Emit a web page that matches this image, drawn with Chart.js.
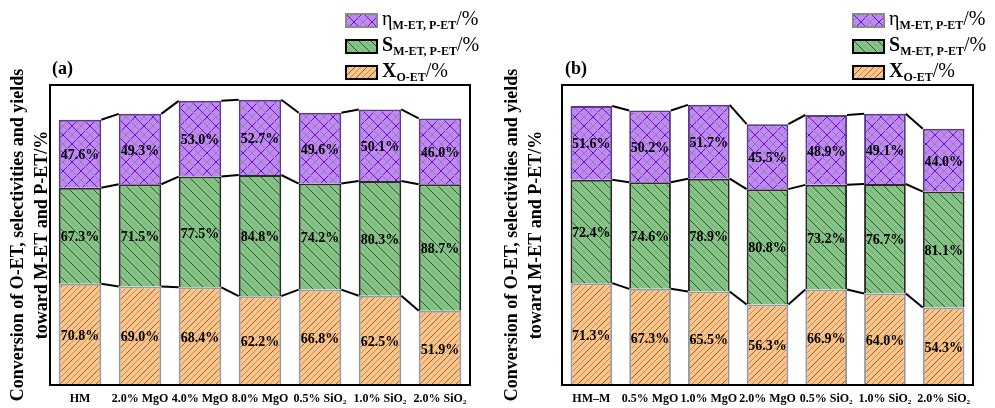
<!DOCTYPE html>
<html>
<head>
<meta charset="utf-8">
<script src="https://cdn.jsdelivr.net/npm/chart.js@4.4.1/dist/chart.umd.min.js"></script>
<style>
  body { margin: 0; width: 995px; height: 408px; position: relative; background: #fff; overflow: hidden;
         font-family: 'Liberation Serif', 'Times New Roman', serif; color: #000; }
  canvas { position: absolute; top: 0; }
  .lab { position: absolute; font-weight: bold; font-size: 18px; }
  .leg { position: absolute; }
  .row { position: absolute; left: 0; height: 20px; white-space: nowrap; }
  .row canvas { position: absolute; left: 0; top: 3px; }
  .row span { position: absolute; left: 37px; top: -3px; font-size: 20px; }
  .row sub { font-size: 12px; font-weight: bold; vertical-align: -4px; }
</style>
</head>
<body>
<canvas id="chartA" width="482" height="408" style="left:0"></canvas>
<canvas id="chartB" width="496" height="408" style="left:494px"></canvas>
<div class="lab" style="left:52px;top:58px">(a)</div>
<div class="lab" style="left:565px;top:58px">(b)</div>
<div class="leg" id="legA" style="left:345px;top:10px"></div>
<div class="leg" id="legB" style="left:852px;top:10px"></div>
<script>
const catsA = ['HM', '2.0% MgO', '4.0% MgO', '8.0% MgO', '0.5% SiO₂', '1.0% SiO₂', '2.0% SiO₂'];
const convA = [70.8, 69.0, 68.4, 62.2, 66.8, 62.5, 51.9];
const selA = [67.3, 71.5, 77.5, 84.8, 74.2, 80.3, 88.7];
const yieldA = [47.6, 49.3, 53.0, 52.7, 49.6, 50.1, 46.0];

const catsB = ['HM–M', '0.5% MgO', '1.0% MgO', '2.0% MgO', '0.5% SiO₂', '1.0% SiO₂', '2.0% SiO₂'];
const convB = [71.3, 67.3, 65.5, 56.3, 66.9, 64.0, 54.3];
const selB = [72.4, 74.6, 78.9, 80.8, 73.2, 76.7, 81.1];
const yieldB = [51.6, 50.2, 51.7, 45.5, 48.9, 49.1, 44.0];

const yTitle = ['Conversion of O-ET, selectivities and yields', 'toward M-ET and P-ET/%'];
const FONT = "'Liberation Serif', 'Times New Roman', serif";

// diagonal hatch tile; dir '/' or '\'
function hatch(bg, lines, size) {
  const c = document.createElement('canvas');
  c.width = c.height = size;
  const g = c.getContext('2d');
  g.fillStyle = bg;
  g.fillRect(0, 0, size, size);
  g.lineWidth = 1;
  lines.forEach((l) => {
    g.strokeStyle = l.color;
    for (let k = -1; k <= 2; k++) {
      const o = l.offset + k * size;
      g.beginPath();
      if (l.dir === '/') {
        g.moveTo(o + size, -size);
        g.lineTo(o - 2 * size, 2 * size);
      } else {
        g.moveTo(o - size, -size);
        g.lineTo(o + 2 * size, 2 * size);
      }
      g.stroke();
    }
  });
  return g.createPattern(c, 'repeat');
}

const orangeFill = hatch('#ffc383', [
  { dir: '/', color: '#9a5a2a', offset: 0 },
  { dir: '/', color: '#9a9a9a', offset: 6 },
], 12);
const greenFill = hatch('#84c484', [
  { dir: '\\', color: '#1f5a1f', offset: 0 },
  { dir: '\\', color: '#8f9f8f', offset: 6 },
], 12);
const purpleFill = hatch('#c386ff', [
  { dir: '/', color: '#5a1f9a', offset: 0 },
  { dir: '/', color: '#8a8a8a', offset: 9 },
  { dir: '\\', color: '#5a1f9a', offset: 0 },
  { dir: '\\', color: '#8a8a8a', offset: 9 },
], 18);

const boxPlugin = {
  id: 'box',
  afterDraw(chart) {
    const { ctx, chartArea: a } = chart;
    ctx.save();
    ctx.strokeStyle = '#000';
    ctx.lineWidth = 2;
    ctx.strokeRect(a.left, a.top, a.right - a.left, a.bottom - a.top);
    ctx.restore();
  },
};

const linkPlugin = {
  id: 'links',
  afterDatasetsDraw(chart) {
    const ctx = chart.ctx;
    ctx.save();
    ctx.strokeStyle = '#000';
    ctx.lineWidth = 2;
    chart.data.datasets.forEach((ds, di) => {
      const bars = chart.getDatasetMeta(di).data;
      for (let i = 0; i < bars.length - 1; i++) {
        const a = bars[i], b = bars[i + 1];
        ctx.beginPath();
        ctx.moveTo(a.x + a.width / 2, a.y);
        ctx.lineTo(b.x - b.width / 2, b.y);
        ctx.stroke();
      }
    });
    ctx.restore();
  },
};

const valuePlugin = {
  id: 'values',
  afterDatasetsDraw(chart) {
    const ctx = chart.ctx;
    ctx.save();
    ctx.font = 'bold 14px ' + FONT;
    ctx.fillStyle = '#000';
    ctx.textAlign = 'center';
    ctx.textBaseline = 'middle';
    chart.data.datasets.forEach((ds, di) => {
      chart.getDatasetMeta(di).data.forEach((bar, i) => {
        ctx.fillText(ds.data[i].toFixed(1) + '%', bar.x, (bar.y + bar.base) / 2 + 2);
      });
    });
    ctx.restore();
  },
};

function makeChart(id, cats, conv, sel, yld, yWidth, rightPad) {
  return new Chart(document.getElementById(id), {
    type: 'bar',
    data: {
      labels: cats,
      datasets: [
        { label: 'X', data: conv, backgroundColor: orangeFill, borderColor: '#9a9a9a', borderWidth: 2 },
        { label: 'S', data: sel, backgroundColor: greenFill, borderColor: '#2a2a2a', borderWidth: 2 },
        { label: 'η', data: yld, backgroundColor: purpleFill, borderColor: '#5c3a8a', borderWidth: 2 },
      ],
    },
    options: {
      responsive: false,
      animation: false,
      categoryPercentage: 1,
      barPercentage: 0.71,
      layout: { padding: { top: 85, right: rightPad, left: 0, bottom: 0 } },
      plugins: { legend: { display: false }, tooltip: { enabled: false } },
      scales: {
        x: {
          stacked: true,
          grid: { display: false, drawTicks: false },
          border: { display: false },
          ticks: { color: '#000', font: { family: FONT, size: 12, weight: 'bold' }, padding: 7, maxRotation: 0, autoSkip: false },
          afterFit: (s) => { s.height = 23; },
        },
        y: {
          stacked: true,
          min: 0,
          max: 210,
          ticks: { display: false },
          grid: { display: false, drawTicks: false },
          border: { display: false },
          title: {
            display: true,
            text: yTitle,
            color: '#000',
            font: { family: FONT, size: 18, weight: 'bold', lineHeight: 1.35 },
            padding: { top: 6, bottom: 0 },
          },
          afterFit: (s) => { s.width = yWidth; },
        },
      },
    },
    plugins: [linkPlugin, valuePlugin, boxPlugin],
  });
}

makeChart('chartA', catsA, convA, selA, yieldA, 50, 12);
makeChart('chartB', catsB, convB, selB, yieldB, 68, 17);

function buildLegend(id) {
  const items = [
    { fill: purpleFill, border: '#8a8a8a', html: 'η<sub>M-ET, P-ET</sub>/%' },
    { fill: greenFill, border: '#000', html: '<b>S</b><sub>M-ET, P-ET</sub>/%' },
    { fill: orangeFill, border: '#000', html: '<b>X</b><sub>O-ET</sub>/%' },
  ];
  const box = document.getElementById(id);
  items.forEach((it, i) => {
    const row = document.createElement('div');
    row.className = 'row';
    row.style.top = (i * 26) + 'px';
    const c = document.createElement('canvas');
    c.width = 33; c.height = 15;
    const g = c.getContext('2d');
    g.fillStyle = it.fill;
    g.fillRect(0, 0, 33, 15);
    g.strokeStyle = it.border;
    g.lineWidth = 2;
    g.strokeRect(1, 1, 31, 13);
    row.appendChild(c);
    const t = document.createElement('span');
    t.innerHTML = it.html;
    row.appendChild(t);
    box.appendChild(row);
  });
}
buildLegend('legA');
buildLegend('legB');
</script>
</body>
</html>
